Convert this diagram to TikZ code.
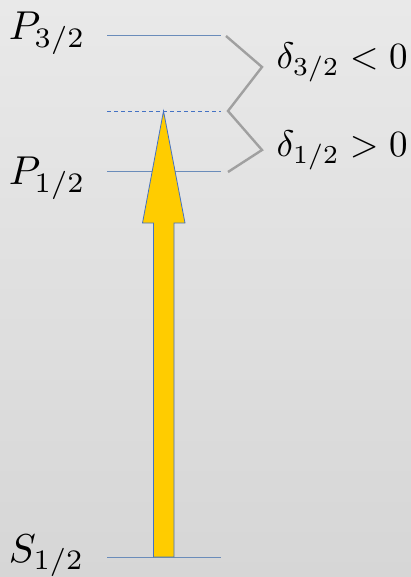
\documentclass[tikz,border=0pt]{standalone}
\usetikzlibrary{calc}
\definecolor{lvlblue}{HTML}{6A8CBA}
\definecolor{arrblue}{HTML}{4472C4}
\definecolor{beamgold}{HTML}{FFCC00}
\definecolor{ziggray}{HTML}{A0A0A0}
\definecolor{bgtop}{HTML}{E9E9E9}
\definecolor{bgbot}{HTML}{D6D6D6}
\tikzset{
  lvl style/.style={draw=lvlblue, line width=1pt},
  virt style/.style={draw=arrblue, line width=0.9pt, dash pattern=on 4pt off 3pt},
  zig style/.style={draw=ziggray, line width=2.4pt},
  lbl style/.style={anchor=base west, inner sep=0pt, scale=3.7},
  state style/.style={lbl style, scale=1.09},
  beam style/.style={fill=beamgold, draw=arrblue, line width=0.8pt}
}

\begin{document}
\begin{tikzpicture}[x=1pt, y=-1pt]
\fill[top color=bgtop, bottom color=bgbot] (0,0) rectangle (411,577);
\useasboundingbox (0,0) rectangle (411,577);
% levels
\coordinate (p32l) at (107,36);  \coordinate (p32r) at (221,36);
\coordinate (virtl) at (107,111); \coordinate (virtr) at (221,111);
\coordinate (p12l) at (107,172); \coordinate (p12r) at (221,172);
\coordinate (s12l) at (107,557); \coordinate (s12r) at (221,557);
\draw[lvl style] (p32l) -- (p32r);
\draw[virt style] (virtl) -- (virtr);
\draw[lvl style] (p12l) -- (p12r);
\draw[lvl style] (s12l) -- (s12r);
% laser beam
\coordinate (tip) at (163.5,111);
\coordinate (foot) at (163.75,557);
\draw[beam style] ($(foot)+(-10.25,0)$) -- ($(foot)+(10.25,0)$) -- (174,223) -- (185,223)
  -- (tip) -- (142.5,223) -- (153.5,223) -- cycle;
% detunings
\coordinate (z1) at (226,36);
\coordinate (z2) at (262,67);
\coordinate (z3) at (228,111);
\coordinate (z4) at (262,150);
\coordinate (z5) at (228,172);
\draw[zig style] (z1) -- (z2) -- (z3) -- (z4) -- (z5);
% labels
\node[state style] (lp32) at (8,40)  {$P_{3/2}$};
\node[state style] (lp12) at (8,185) {$P_{1/2}$};
\node[state style] (ls12) at (8,562) {$S_{1/2}$};
\node[lbl style] (ld32) at (276,69)  {$\delta_{3/2}<0$};
\node[lbl style] (ld12) at (276,157) {$\delta_{1/2}>0$};
\end{tikzpicture}
\end{document}
